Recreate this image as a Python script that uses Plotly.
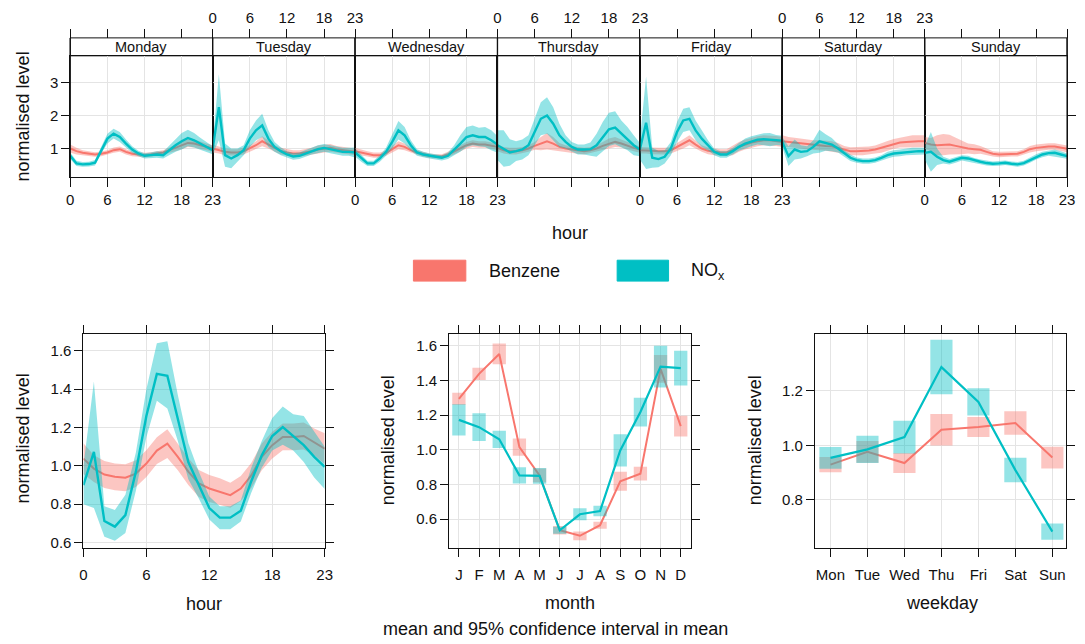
import plotly.graph_objects as go

W, H = 1085, 644
FONT = "Liberation Sans"
BENZ = "#F8766D"
NOX = "#00BFC4"
BENZ_FILL = "rgba(248,118,109,0.42)"
NOX_FILL = "rgba(0,191,196,0.42)"
GRID = "#E4E4E4"
INK = "#111111"

# ---------------- data ----------------
hours = list(range(24))
days = ["Monday", "Tuesday", "Wednesday", "Thursday", "Friday", "Saturday", "Sunday"]

# hour-of-week means (one list of 24 hours per weekday)
nox_week = [
    [0.78, 0.55, 0.52, 0.53, 0.57, 0.95, 1.30, 1.45, 1.35, 1.15, 0.97, 0.85, 0.78, 0.80, 0.82, 0.80, 0.95, 1.10, 1.22, 1.32, 1.25, 1.15, 1.05, 0.95],
    [0.98, 2.25, 0.80, 0.70, 0.80, 0.95, 1.30, 1.55, 1.70, 1.30, 1.05, 0.92, 0.82, 0.76, 0.78, 0.85, 0.92, 0.98, 1.02, 0.98, 0.93, 0.90, 0.90, 0.88],
    [0.88, 0.70, 0.55, 0.55, 0.70, 0.90, 1.20, 1.55, 1.40, 1.10, 0.88, 0.82, 0.78, 0.74, 0.72, 0.78, 0.95, 1.15, 1.35, 1.40, 1.35, 1.35, 1.25, 1.12],
    [1.10, 1.00, 0.88, 0.92, 0.97, 1.10, 1.50, 1.90, 2.00, 1.75, 1.40, 1.20, 1.05, 0.97, 0.97, 0.98, 1.10, 1.35, 1.58, 1.63, 1.45, 1.30, 1.10, 0.97],
    [0.97, 1.78, 0.72, 0.68, 0.75, 1.00, 1.50, 1.85, 1.90, 1.55, 1.30, 1.10, 0.90, 0.82, 0.82, 0.92, 1.05, 1.15, 1.22, 1.27, 1.28, 1.27, 1.26, 1.24],
    [1.20, 0.77, 0.97, 0.90, 0.92, 1.05, 1.22, 1.18, 1.12, 1.00, 0.85, 0.72, 0.65, 0.62, 0.62, 0.65, 0.72, 0.80, 0.85, 0.87, 0.90, 0.92, 0.92, 0.92],
    [0.87, 0.90, 0.75, 0.65, 0.60, 0.65, 0.72, 0.70, 0.64, 0.60, 0.56, 0.54, 0.55, 0.57, 0.54, 0.52, 0.56, 0.65, 0.75, 0.82, 0.86, 0.87, 0.82, 0.77],
]
nox_week_ci = [
    [0.10, 0.08, 0.07, 0.07, 0.08, 0.10, 0.15, 0.15, 0.15, 0.12, 0.10, 0.08, 0.08, 0.08, 0.10, 0.10, 0.15, 0.20, 0.25, 0.25, 0.22, 0.18, 0.15, 0.12],
    [0.15, 1.00, 0.35, 0.30, 0.20, 0.15, 0.25, 0.30, 0.35, 0.25, 0.15, 0.12, 0.10, 0.10, 0.10, 0.10, 0.10, 0.12, 0.12, 0.12, 0.12, 0.12, 0.12, 0.15],
    [0.12, 0.10, 0.08, 0.08, 0.10, 0.12, 0.20, 0.28, 0.25, 0.15, 0.10, 0.08, 0.08, 0.08, 0.08, 0.10, 0.15, 0.25, 0.30, 0.30, 0.28, 0.30, 0.30, 0.25],
    [0.45, 0.55, 0.40, 0.30, 0.30, 0.30, 0.40, 0.50, 0.55, 0.50, 0.35, 0.20, 0.15, 0.15, 0.15, 0.20, 0.35, 0.45, 0.50, 0.50, 0.40, 0.35, 0.30, 0.20],
    [0.30, 1.40, 0.30, 0.25, 0.20, 0.20, 0.30, 0.35, 0.35, 0.30, 0.25, 0.15, 0.10, 0.10, 0.10, 0.10, 0.12, 0.15, 0.15, 0.15, 0.18, 0.20, 0.15, 0.15],
    [0.15, 0.30, 0.30, 0.20, 0.15, 0.20, 0.35, 0.25, 0.20, 0.12, 0.10, 0.10, 0.08, 0.08, 0.08, 0.08, 0.08, 0.10, 0.10, 0.10, 0.10, 0.10, 0.10, 0.10],
    [0.20, 0.60, 0.25, 0.10, 0.08, 0.08, 0.08, 0.08, 0.07, 0.07, 0.07, 0.07, 0.07, 0.07, 0.07, 0.07, 0.07, 0.08, 0.08, 0.08, 0.08, 0.10, 0.10, 0.08],
]
benzene_week = [
    [1.00, 0.92, 0.87, 0.84, 0.82, 0.84, 0.88, 0.95, 0.98, 0.90, 0.84, 0.82, 0.80, 0.82, 0.85, 0.88, 0.95, 1.02, 1.10, 1.17, 1.15, 1.10, 1.05, 1.00],
    [1.00, 0.95, 0.90, 0.88, 0.88, 0.92, 1.00, 1.10, 1.22, 1.12, 1.00, 0.92, 0.88, 0.85, 0.85, 0.88, 0.92, 0.97, 1.00, 1.02, 0.98, 0.95, 0.92, 0.90],
    [0.92, 0.88, 0.84, 0.80, 0.80, 0.86, 0.98, 1.10, 1.05, 0.95, 0.88, 0.82, 0.78, 0.76, 0.76, 0.82, 0.92, 1.02, 1.10, 1.15, 1.12, 1.12, 1.08, 1.05],
    [1.02, 0.95, 0.92, 0.92, 0.95, 1.00, 1.08, 1.15, 1.22, 1.15, 1.05, 1.00, 0.97, 0.94, 0.92, 0.95, 1.00, 1.08, 1.15, 1.20, 1.15, 1.08, 1.02, 0.97],
    [0.95, 0.95, 0.93, 0.92, 0.92, 0.95, 1.05, 1.15, 1.25, 1.12, 1.00, 0.93, 0.90, 0.88, 0.88, 0.95, 1.05, 1.12, 1.18, 1.22, 1.25, 1.25, 1.23, 1.20],
    [1.22, 1.20, 1.18, 1.15, 1.12, 1.10, 1.10, 1.08, 1.07, 1.02, 0.96, 0.92, 0.92, 0.92, 0.94, 0.97, 1.02, 1.08, 1.14, 1.18, 1.20, 1.22, 1.22, 1.22],
    [1.17, 1.12, 1.10, 1.12, 1.12, 1.08, 1.03, 1.00, 0.98, 0.96, 0.90, 0.84, 0.82, 0.82, 0.84, 0.84, 0.90, 0.98, 1.02, 1.05, 1.06, 1.06, 1.02, 0.99],
]
benzene_week_ci = [
    [0.12, 0.10, 0.08, 0.07, 0.07, 0.07, 0.07, 0.08, 0.08, 0.08, 0.07, 0.07, 0.07, 0.07, 0.07, 0.07, 0.08, 0.10, 0.12, 0.12, 0.12, 0.10, 0.10, 0.10],
    [0.12, 0.10, 0.10, 0.10, 0.10, 0.10, 0.10, 0.12, 0.15, 0.12, 0.10, 0.10, 0.10, 0.10, 0.10, 0.10, 0.10, 0.12, 0.12, 0.12, 0.10, 0.10, 0.10, 0.10],
    [0.10, 0.08, 0.08, 0.08, 0.08, 0.08, 0.10, 0.12, 0.10, 0.08, 0.07, 0.07, 0.07, 0.07, 0.07, 0.08, 0.08, 0.10, 0.10, 0.10, 0.10, 0.10, 0.10, 0.10],
    [0.10, 0.10, 0.10, 0.10, 0.10, 0.10, 0.12, 0.20, 0.25, 0.20, 0.12, 0.10, 0.10, 0.10, 0.10, 0.10, 0.10, 0.12, 0.15, 0.15, 0.12, 0.10, 0.10, 0.10],
    [0.10, 0.10, 0.10, 0.10, 0.10, 0.10, 0.12, 0.15, 0.15, 0.12, 0.10, 0.10, 0.10, 0.10, 0.10, 0.15, 0.15, 0.15, 0.15, 0.15, 0.15, 0.15, 0.15, 0.15],
    [0.18, 0.15, 0.15, 0.15, 0.15, 0.15, 0.15, 0.15, 0.15, 0.15, 0.12, 0.12, 0.12, 0.12, 0.12, 0.12, 0.15, 0.15, 0.15, 0.15, 0.18, 0.18, 0.18, 0.18],
    [0.18, 0.20, 0.30, 0.32, 0.30, 0.25, 0.20, 0.15, 0.15, 0.12, 0.10, 0.08, 0.08, 0.08, 0.08, 0.08, 0.08, 0.10, 0.10, 0.10, 0.10, 0.10, 0.10, 0.10],
]

# diurnal profile
nox_hour = [0.90, 1.073, 0.712, 0.683, 0.743, 0.97, 1.26, 1.48, 1.47, 1.246, 1.02, 0.90, 0.78, 0.73, 0.73, 0.766, 0.92, 1.055, 1.156, 1.203, 1.156, 1.108, 1.047, 0.995]
nox_hour_lo = [0.80, 0.78, 0.63, 0.61, 0.65, 0.87, 1.15, 1.34, 1.30, 1.13, 0.93, 0.83, 0.72, 0.67, 0.67, 0.71, 0.86, 0.99, 1.08, 1.11, 1.08, 1.02, 0.94, 0.88]
nox_hour_hi = [1.00, 1.44, 0.79, 0.77, 0.85, 1.07, 1.40, 1.64, 1.65, 1.37, 1.12, 0.97, 0.84, 0.79, 0.79, 0.82, 0.99, 1.13, 1.25, 1.31, 1.27, 1.26, 1.18, 1.10]
benzene_hour = [1.038, 0.986, 0.955, 0.943, 0.938, 0.96, 1.012, 1.08, 1.116, 1.047, 0.97, 0.908, 0.882, 0.865, 0.847, 0.882, 0.95, 1.047, 1.108, 1.151, 1.151, 1.156, 1.125, 1.09]
benzene_hour_ci = [0.08, 0.07, 0.07, 0.07, 0.07, 0.07, 0.07, 0.07, 0.075, 0.07, 0.07, 0.07, 0.07, 0.07, 0.065, 0.065, 0.065, 0.07, 0.07, 0.07, 0.07, 0.07, 0.07, 0.08]

# monthly profile
months = list(range(1, 13))
month_labels = ["J", "F", "M", "A", "M", "J", "J", "A", "S", "O", "N", "D"]
benzene_month = [1.293, 1.437, 1.552, 1.015, 0.852, 0.536, 0.504, 0.565, 0.818, 0.862, 1.466, 1.136]
benzene_month_ci = [0.035, 0.035, 0.06, 0.05, 0.04, 0.025, 0.025, 0.02, 0.055, 0.04, 0.08, 0.06]
nox_month = [1.172, 1.13, 1.06, 0.852, 0.849, 0.536, 0.628, 0.647, 0.996, 1.217, 1.479, 1.47]
nox_month_ci = [0.09, 0.08, 0.05, 0.047, 0.045, 0.02, 0.035, 0.03, 0.093, 0.083, 0.12, 0.10]

# weekday profile
weekdays = list(range(1, 8))
weekday_labels = ["Mon", "Tue", "Wed", "Thu", "Fri", "Sat", "Sun"]
benzene_wday = [0.929, 0.976, 0.935, 1.057, 1.067, 1.082, 0.955]
benzene_wday_ci = [0.028, 0.04, 0.037, 0.058, 0.037, 0.043, 0.04]
nox_wday = [0.954, 0.985, 1.03, 1.287, 1.159, 0.909, 0.683]
nox_wday_ci = [0.04, 0.05, 0.06, 0.10, 0.05, 0.045, 0.03]


# ---------------- helpers ----------------
def px(x):
    return x / W


def py(y):
    return 1 - y / H


fig = go.Figure()


def band(x, lo, hi, fill, xa, ya):
    fig.add_trace(go.Scatter(
        x=list(x) + list(x)[::-1], y=list(hi) + list(lo)[::-1],
        fill="toself", fillcolor=fill, line=dict(width=0), mode="lines",
        hoverinfo="skip", showlegend=False, xaxis=xa, yaxis=ya))


def line(x, y, color, xa, ya, width=2):
    fig.add_trace(go.Scatter(
        x=x, y=y, mode="lines", line=dict(color=color, width=width),
        hoverinfo="skip", showlegend=False, xaxis=xa, yaxis=ya))


def boxes(x, mean, ci, fill, xa, ya, w):
    xs, ys = [], []
    for xi, m, c in zip(x, mean, ci):
        xs += [xi - w / 2, xi + w / 2, xi + w / 2, xi - w / 2, xi - w / 2, None]
        ys += [m - c, m - c, m + c, m + c, m - c, None]
    fig.add_trace(go.Scatter(
        x=xs, y=ys, fill="toself", fillcolor=fill, line=dict(width=0),
        mode="lines", hoverinfo="skip", showlegend=False, xaxis=xa, yaxis=ya))


tickfont = dict(family=FONT, size=15, color=INK)
layout = {}

# ---------------- top: hour of week ----------------
edges = [67 + 144 * i for i in range(8)]
TOP_BOTTOM, TOP_TOP, STRIP_TOP = 178, 56, 38
for i, day in enumerate(days):
    k = i + 1
    xa, ya = f"x{k}", f"y{k}"
    lo_b = [m - c for m, c in zip(benzene_week[i], benzene_week_ci[i])]
    hi_b = [m + c for m, c in zip(benzene_week[i], benzene_week_ci[i])]
    lo_n = [m - c for m, c in zip(nox_week[i], nox_week_ci[i])]
    hi_n = [m + c for m, c in zip(nox_week[i], nox_week_ci[i])]
    band(hours, lo_b, hi_b, BENZ_FILL, xa, ya)
    line(hours, benzene_week[i], BENZ, xa, ya, 2)
    band(hours, lo_n, hi_n, NOX_FILL, xa, ya)
    line(hours, nox_week[i], NOX, xa, ya, 2.4)

    layout[f"xaxis{k}"] = dict(
        domain=[px(edges[i]), px(edges[i + 1])], range=[0, 23], anchor=ya,
        tickvals=[0, 6, 12, 18, 23], ticks="outside", ticklen=9, tickcolor=INK,
        showticklabels=(i % 2 == 0), tickfont=tickfont,
        showline=True, linecolor=INK, linewidth=1, mirror=True,
        showgrid=True, gridcolor=GRID, gridwidth=1, zeroline=False, fixedrange=True)
    yax = dict(
        domain=[py(TOP_BOTTOM), py(TOP_TOP)], range=[0.125, 3.805], anchor=xa,
        tickvals=[1, 2, 3], showline=True, linecolor=INK, linewidth=1, mirror=True,
        showgrid=True, gridcolor=GRID, gridwidth=1, zeroline=False,
        showticklabels=(i == 0), tickfont=tickfont, ticks="", fixedrange=True)
    if i == 0:
        yax.update(ticks="outside", ticklen=8, tickcolor=INK, side="left")
    if i == 6:
        yax.update(ticks="outside", ticklen=8, tickcolor=INK, side="right")
    layout[f"yaxis{k}"] = yax

    # tick marks above the strip
    kt = 8 + i
    layout[f"xaxis{kt}"] = dict(
        overlaying=xa, side="top", anchor="free", position=py(STRIP_TOP),
        range=[0, 23], tickvals=[0, 6, 12, 18, 23], ticks="outside", ticklen=9,
        tickcolor=INK, showticklabels=(i % 2 == 1), tickfont=tickfont,
        showline=False, showgrid=False, zeroline=False, fixedrange=True)
    fig.add_trace(go.Scatter(x=[0, 23], y=[1, 1], mode="markers",
                             marker=dict(size=1, opacity=0), hoverinfo="skip",
                             showlegend=False, xaxis=f"x{kt}", yaxis=ya))

shapes = []
annotations = []
for i, day in enumerate(days):
    shapes.append(dict(type="rect", xref="paper", yref="paper",
                       x0=px(edges[i]), x1=px(edges[i + 1]),
                       y0=py(TOP_TOP), y1=py(STRIP_TOP),
                       line=dict(color=INK, width=1), fillcolor="white", layer="below"))
    annotations.append(dict(x=px((edges[i] + edges[i + 1]) / 2), y=py(47),
                            xref="paper", yref="paper", text=day, showarrow=False,
                            font=dict(family=FONT, size=14.5, color=INK),
                            xanchor="center", yanchor="middle"))
for e in edges:
    shapes.append(dict(type="line", xref="paper", yref="paper",
                       x0=px(e), x1=px(e), y0=py(TOP_BOTTOM), y1=py(STRIP_TOP),
                       line=dict(color=INK, width=1.3)))

# ---------------- bottom panels ----------------
BOT_TOP, BOT_BOTTOM = 335, 550


def bottom_axes(k, x0, x1, xrange, yrange, xvals, xtext, yvals):
    layout[f"xaxis{k}"] = dict(
        domain=[px(x0), px(x1)], range=xrange, anchor=f"y{k}",
        tickvals=xvals, ticktext=xtext, ticks="outside", ticklen=8, tickcolor=INK,
        tickfont=tickfont, ticklabelstandoff=5,
        showline=True, linecolor=INK, linewidth=1, mirror="ticks",
        showgrid=True, gridcolor=GRID, gridwidth=1, zeroline=False, fixedrange=True)
    layout[f"yaxis{k}"] = dict(
        domain=[py(BOT_BOTTOM), py(BOT_TOP)], range=yrange, anchor=f"x{k}",
        tickvals=yvals, ticktext=[f"{v:.1f}" for v in yvals], ticks="outside",
        ticklen=8, tickcolor=INK, tickfont=tickfont, showline=True, linecolor=INK,
        linewidth=1, mirror="ticks", showgrid=True, gridcolor=GRID, gridwidth=1,
        zeroline=False, fixedrange=True)


# hour
band(hours, [m - c for m, c in zip(benzene_hour, benzene_hour_ci)],
     [m + c for m, c in zip(benzene_hour, benzene_hour_ci)], BENZ_FILL, "x15", "y15")
line(hours, benzene_hour, BENZ, "x15", "y15", 2)
band(hours, nox_hour_lo, nox_hour_hi, NOX_FILL, "x15", "y15")
line(hours, nox_hour, NOX, "x15", "y15", 2.4)
bottom_axes(15, 80.3, 324.3, [0, 23], [0.570, 1.6885],
            [0, 6, 12, 18, 23], ["0", "6", "12", "18", "23"],
            [0.6, 0.8, 1.0, 1.2, 1.4, 1.6])

# month
boxes(months, benzene_month, benzene_month_ci, BENZ_FILL, "x16", "y16", 0.66)
line(months, benzene_month, BENZ, "x16", "y16", 2)
boxes(months, nox_month, nox_month_ci, NOX_FILL, "x16", "y16", 0.66)
line(months, nox_month, NOX, "x16", "y16", 2.2)
bottom_axes(16, 450, 694.3, [0.51, 12.49], [0.432, 1.667],
            months, month_labels, [0.6, 0.8, 1.0, 1.2, 1.4, 1.6])

# weekday
boxes(weekdays, benzene_wday, benzene_wday_ci, BENZ_FILL, "x17", "y17", 0.6)
line(weekdays, benzene_wday, BENZ, "x17", "y17", 2)
boxes(weekdays, nox_wday, nox_wday_ci, NOX_FILL, "x17", "y17", 0.6)
line(weekdays, nox_wday, NOX, "x17", "y17", 2.2)
bottom_axes(17, 820, 1074.3, [0.58, 7.38], [0.622, 1.4086],
            weekdays, weekday_labels, [0.8, 1.0, 1.2])


# ---------------- titles ----------------
def label(x, y, text, angle=0, size=18):
    annotations.append(dict(x=px(x), y=py(y), xref="paper", yref="paper",
                            text=text, showarrow=False, textangle=angle,
                            font=dict(family=FONT, size=size, color=INK),
                            xanchor="center", yanchor="middle"))


label(19, 117, "normalised level", -90)
label(572, 234, "hour")
label(19, 440, "normalised level", -90)
label(388, 442, "normalised level", -90)
label(759, 442, "normalised level", -90)
label(202, 606, "hour")
label(572, 605, "month")
label(948, 605, "weekday")
label(558, 631, "mean and 95% confidence interval in mean")

# legend
for x0, x1, col in [(414, 467, BENZ), (620, 672, NOX)]:
    shapes.append(dict(type="rect", xref="paper", yref="paper",
                       x0=px(x0), x1=px(x1), y0=py(282), y1=py(261),
                       line=dict(color=col, width=1), fillcolor=col))
annotations.append(dict(x=px(488), y=py(272), xref="paper", yref="paper",
                        text="Benzene", showarrow=False, xanchor="left", yanchor="middle",
                        font=dict(family=FONT, size=18, color=INK)))
annotations.append(dict(x=px(693), y=py(272), xref="paper", yref="paper",
                        text="NO<sub>x</sub>", showarrow=False, xanchor="left", yanchor="middle",
                        font=dict(family=FONT, size=18, color=INK)))

fig.update_layout(
    width=W, height=H, margin=dict(l=0, r=0, t=0, b=0),
    paper_bgcolor="white", plot_bgcolor="white",
    showlegend=False, shapes=shapes, annotations=annotations,
    font=dict(family=FONT, color=INK),
    **layout)

fig.write_html("out.html")
